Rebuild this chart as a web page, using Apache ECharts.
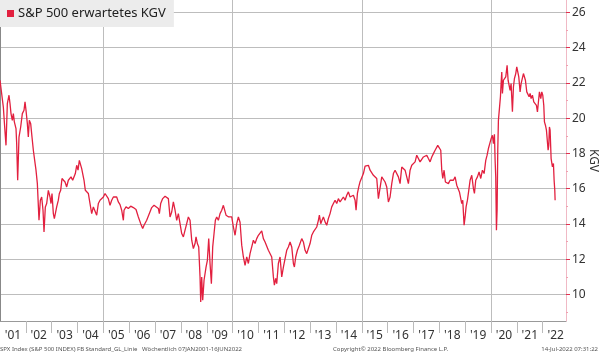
<!DOCTYPE html>
<html>
<head>
<meta charset="utf-8">
<script src="https://cdn.jsdelivr.net/npm/echarts@6/dist/echarts.min.js"></script>
<style>html,body{margin:0;padding:0;background:#fff}#c{width:600px;height:356px}</style>
</head>
<body>
<div id="c"></div>
<script>
const dates = [
2001.000,2001.129,2001.181,2001.232,2001.284,2001.348,2001.387,2001.426,2001.477,2001.516,2001.555,2001.619,2001.645,2001.684,2001.735,2001.800,2001.864,2001.929,2001.968,
2002.006,2002.058,2002.096,2002.135,2002.187,2002.238,2002.290,2002.342,2002.393,2002.445,2002.509,2002.561,2002.613,2002.664,2002.703,2002.754,2002.806,2002.870,2002.935,2002.974,
2003.012,2003.064,2003.103,2003.154,2003.193,2003.257,2003.296,2003.348,2003.399,2003.451,2003.516,2003.580,2003.644,2003.696,2003.748,2003.812,2003.864,2003.915,2003.967,
2004.019,2004.070,2004.122,2004.161,2004.199,2004.251,2004.302,2004.354,2004.418,2004.483,2004.548,2004.612,2004.677,2004.741,2004.805,2004.870,2004.935,2004.999,
2005.064,2005.128,2005.192,2005.257,2005.322,2005.386,2005.451,2005.515,2005.579,2005.644,2005.709,2005.773,2005.799,2005.876,2005.966,
2006.057,2006.160,2006.263,2006.353,2006.444,2006.521,2006.573,2006.676,2006.779,2006.870,2006.960,
2007.037,2007.127,2007.166,2007.218,2007.295,2007.386,2007.450,2007.514,2007.579,2007.644,2007.708,2007.773,2007.837,2007.901,2007.966,
2008.031,2008.095,2008.160,2008.224,2008.288,2008.353,2008.418,2008.482,2008.547,2008.585,2008.637,2008.689,2008.740,2008.766,2008.805,2008.843,2008.895,2008.972,
2009.024,2009.076,2009.127,2009.179,2009.230,2009.282,2009.333,2009.385,2009.449,2009.514,2009.579,2009.643,2009.708,2009.746,2009.798,2009.850,2009.901,2009.966,
2010.030,2010.095,2010.159,2010.223,2010.288,2010.353,2010.417,2010.482,2010.546,2010.610,2010.675,2010.740,2010.804,2010.869,2010.933,2010.997,
2011.062,2011.127,2011.191,2011.256,2011.320,2011.384,2011.449,2011.514,2011.578,2011.617,2011.668,2011.707,2011.771,2011.836,2011.901,2011.965,
2012.030,2012.094,2012.158,2012.223,2012.288,2012.352,2012.391,2012.442,2012.507,2012.584,2012.675,2012.739,2012.804,2012.868,2012.932,2012.997,
2013.062,2013.126,2013.191,2013.255,2013.319,2013.358,2013.410,2013.461,2013.513,2013.578,2013.642,2013.706,2013.771,2013.836,2013.900,2013.965,
2014.029,2014.093,2014.158,2014.223,2014.287,2014.352,2014.416,2014.480,2014.545,2014.610,2014.674,2014.739,2014.777,2014.829,2014.881,2014.932,2014.997,
2015.061,2015.126,2015.190,2015.254,2015.319,2015.384,2015.448,2015.513,2015.577,2015.641,2015.706,2015.771,2015.835,2015.900,2015.964,
2016.028,2016.093,2016.158,2016.222,2016.287,2016.351,2016.415,2016.480,2016.545,2016.609,2016.674,2016.738,2016.802,2016.867,2016.932,2016.996,
2017.061,2017.125,2017.189,2017.254,2017.319,2017.383,2017.448,2017.512,2017.576,2017.641,2017.706,2017.770,2017.835,2017.899,2017.938,
2018.002,2018.054,2018.093,2018.131,2018.183,2018.234,2018.286,2018.350,2018.415,2018.480,2018.544,2018.609,2018.673,2018.737,2018.776,2018.828,2018.867,2018.905,2018.957,2018.996,
2019.034,2019.086,2019.138,2019.189,2019.254,2019.318,2019.357,2019.408,2019.473,2019.537,2019.602,2019.666,2019.731,2019.795,2019.847,2019.898,2019.950,
2020.002,2020.053,2020.092,2020.131,2020.157,2020.182,2020.208,2020.234,2020.260,2020.285,2020.324,2020.363,2020.389,2020.415,2020.440,2020.479,2020.518,2020.569,2020.621,2020.660,2020.698,2020.737,2020.776,2020.827,2020.866,2020.905,2020.956,2020.995,
2021.034,2021.073,2021.124,2021.163,2021.214,2021.253,2021.292,2021.330,2021.382,2021.421,2021.472,2021.511,2021.550,2021.601,2021.653,2021.705,2021.756,2021.795,2021.833,2021.872,2021.924,2021.963,
2022.001,2022.040,2022.066,2022.104,2022.143,2022.182,2022.208,2022.234,2022.259,2022.285,2022.324,2022.375,2022.414,2022.440,2022.466,2022.479
];
// S&P 500 forward P/E (KGV) at those dates
const kgv = [
22.15,20.63,19.50,18.46,20.83,21.30,20.83,20.26,19.88,20.26,19.79,19.41,18.56,16.48,18.93,19.50,20.26,20.45,20.92,
20.45,19.69,18.93,19.88,19.69,18.93,18.18,17.61,17.05,16.29,14.21,15.35,15.53,14.78,13.55,14.97,15.16,15.91,15.53,15.16,
15.73,14.59,14.31,14.40,14.97,15.35,15.73,15.91,16.58,16.48,16.38,16.10,16.48,16.58,16.67,16.48,16.58,16.86,17.33,
17.05,17.61,17.65,17.14,16.86,16.48,15.91,15.91,15.73,15.16,14.59,14.97,15.06,14.50,15.16,15.35,15.25,15.53,
15.73,15.63,15.44,15.06,15.35,15.53,15.44,15.53,15.25,15.10,14.78,14.21,14.78,14.97,14.88,
15.01,14.93,14.82,14.40,14.02,13.74,13.93,14.21,14.59,14.93,15.06,
15.16,14.88,14.59,15.16,15.44,15.57,15.63,15.44,14.40,14.68,15.25,14.78,14.21,14.59,14.02,
13.46,13.27,13.65,14.02,14.40,14.21,13.08,12.61,12.89,13.27,12.89,12.70,11.00,9.58,11.00,9.68,10.81,11.56,
11.94,13.17,11.76,10.62,12.70,13.46,14.21,14.40,14.21,14.59,14.78,15.06,14.97,14.50,14.59,14.40,14.50,14.40,
13.83,13.36,14.02,14.40,14.10,12.80,12.13,11.66,12.13,11.76,12.32,12.70,13.08,12.89,13.17,13.36,
13.27,13.61,13.17,12.98,13.08,12.51,12.61,12.13,11.00,10.53,10.91,10.62,11.76,12.13,11.00,11.56,
12.04,12.51,12.70,12.98,12.70,11.76,11.56,12.13,12.51,12.79,13.17,12.98,12.51,12.32,12.61,12.89,
13.36,13.55,13.65,13.83,14.21,14.50,14.02,14.21,14.40,14.12,13.93,14.31,14.59,14.97,15.16,15.35,
15.16,15.44,15.25,15.35,15.53,15.35,15.63,15.82,15.53,15.44,15.63,15.35,14.78,15.73,16.10,16.40,16.38,
16.86,17.28,17.23,17.33,17.05,17.14,16.76,16.86,16.58,15.44,15.53,16.67,16.76,16.38,16.10,
15.25,15.53,16.29,16.86,17.05,16.95,16.67,16.29,17.23,17.33,17.05,16.95,16.29,17.05,17.33,17.43,
17.52,17.90,17.80,17.52,17.61,17.80,17.71,17.90,17.71,17.52,17.80,17.99,18.18,18.27,18.46,
18.37,18.18,17.05,16.58,17.05,16.38,16.48,16.29,16.48,16.38,16.48,16.67,16.20,16.29,15.82,15.91,15.16,15.35,13.93,14.40,
14.97,15.35,15.91,16.48,16.76,16.01,15.73,16.48,16.67,16.95,16.58,17.05,16.86,17.61,17.90,18.28,18.56,
18.84,19.03,18.56,19.09,17.61,16.67,13.64,14.78,18.18,19.88,20.54,21.21,21.96,22.62,21.40,22.15,22.06,22.34,23.00,22.15,22.25,21.58,21.96,20.36,21.77,22.25,22.53,22.91,
22.62,22.34,21.49,21.96,22.06,22.53,22.62,22.15,21.49,21.58,21.21,21.40,21.11,21.30,20.92,21.02,20.73,20.36,20.92,21.49,21.11,21.49,
21.30,20.73,19.79,19.60,19.32,19.41,18.18,18.46,19.50,19.32,17.71,17.24,17.43,16.48,15.91,15.35
];
const yearLabelPos = [2001.5,2002.5,2003.5,2004.5,2005.5,2006.5,2007.5,2008.5,2009.5,2010.5,2011.5,2012.5,2013.5,2014.5,2015.5,2016.5,2017.5,2018.5,2019.5,2020.5,2021.5,2022.5];
const yearLabels = ["'01","'02","'03","'04","'05","'06","'07","'08","'09","'10","'11","'12","'13","'14","'15","'16","'17","'18","'19","'20","'21","'22"];
const yearTicks = [2002,2003,2004,2005,2006,2007,2008,2009,2010,2011,2012,2013,2014,2015,2016,2017,2018,2019,2020,2021,2022];
const vGrid = [2005,2010,2015,2020];
const yMajor = [10,12,14,16,18,20,22,24,26];
const yMinor = [9,11,13,15,17,19,21,23,25];
const seriesName = 'S&P 500 erwartetes KGV';

const font = 'Noto Sans, Liberation Sans, sans-serif';
const chart = echarts.init(document.getElementById('c'), null, {renderer: 'canvas'});
const points = dates.map((d, i) => [d, kgv[i]]);
const labelMap = {};
yearLabelPos.forEach((p, i) => { labelMap[p.toFixed(1)] = yearLabels[i]; });

chart.setOption({
  animation: false,
  backgroundColor: '#fff',
  textStyle: {fontFamily: font},
  grid: {left: 0, right: 34, top: 0, bottom: 35, containLabel: false, outerBoundsMode: 'none'},
  legend: {
    left: 0, top: 0, itemWidth: 7, itemHeight: 7, icon: 'rect', itemGap: 4,
    padding: [7, 8, 7, 7], backgroundColor: '#ececec',
    textStyle: {fontFamily: font, fontSize: 13, color: '#222', padding: [0, 0, 0, -1]},
    data: [seriesName]
  },
  xAxis: [
    {
      type: 'value', min: 2001, max: 2022.9, position: 'bottom',
      axisLine: {show: true, onZero: false, lineStyle: {color: '#999', width: 1}},
      axisTick: {show: true, length: 12, customValues: yearTicks, lineStyle: {color: '#bbb'}},
      axisLabel: {show: true, customValues: yearLabelPos, color: '#333', fontSize: 12, margin: 9, fontFamily: font,
        formatter: v => labelMap[v.toFixed(1)] || ''},
      splitLine: {show: false}
    },
    {
      type: 'value', min: 2001, max: 2022.9, position: 'bottom',
      axisLine: {show: false}, axisLabel: {show: false},
      axisTick: {show: false, customValues: vGrid},
      splitLine: {show: true, lineStyle: {color: '#bdbdbd', width: 1}}
    }
  ],
  yAxis: [
    {
      type: 'value', position: 'right', min: 8.5, max: 26.7,
      name: 'KGV', nameLocation: 'middle', nameRotate: -90, nameGap: 21, nameMoveOverlap: false,
      nameTextStyle: {color: '#333', fontSize: 12, fontFamily: font},
      axisLine: {show: true, lineStyle: {color: '#f0b9c5', width: 1}},
      axisTick: {show: true, inside: false, length: 4, customValues: yMajor, lineStyle: {color: '#e0304f'}},
      axisLabel: {customValues: yMajor, color: '#333', fontSize: 12, margin: 6, fontFamily: font},
      splitLine: {show: true, lineStyle: {color: '#bdbdbd', width: 1}}
    },
    {
      type: 'value', position: 'right', min: 8.5, max: 26.7,
      axisLine: {show: false}, axisLabel: {show: false}, splitLine: {show: false},
      axisTick: {show: true, length: 2, customValues: yMinor, lineStyle: {color: '#f0a0b0'}}
    },
    {
      type: 'value', position: 'left', min: 8.5, max: 26.7,
      axisLine: {show: true, lineStyle: {color: '#888', width: 1}},
      axisLabel: {show: false}, axisTick: {show: false}, splitLine: {show: false}
    }
  ],
  series: [{
    name: seriesName, type: 'line', xAxisIndex: 0, yAxisIndex: 0,
    data: points, showSymbol: false, symbol: 'none',
    lineStyle: {color: '#e2203f', width: 1.3},
    itemStyle: {color: '#e2203f'}
  }],
  graphic: [
    {type: 'text', left: 0, top: 346, style: {text: 'SPX Index (S&P 500 INDEX) FB Standard_GL_Linie   Wöchentlich 07JAN2001-16JUN2022', fontSize: 6, fill: '#555', fontFamily: font}},
    {type: 'text', left: 333, top: 346, style: {text: 'Copyright© 2022 Bloomberg Finance L.P.', fontSize: 6, fill: '#555', fontFamily: font}},
    {type: 'text', right: 2, top: 346, style: {text: '14-Jul-2022 07:31:22', fontSize: 6, fill: '#555', fontFamily: font}}
  ]
});
</script>
</body>
</html>
